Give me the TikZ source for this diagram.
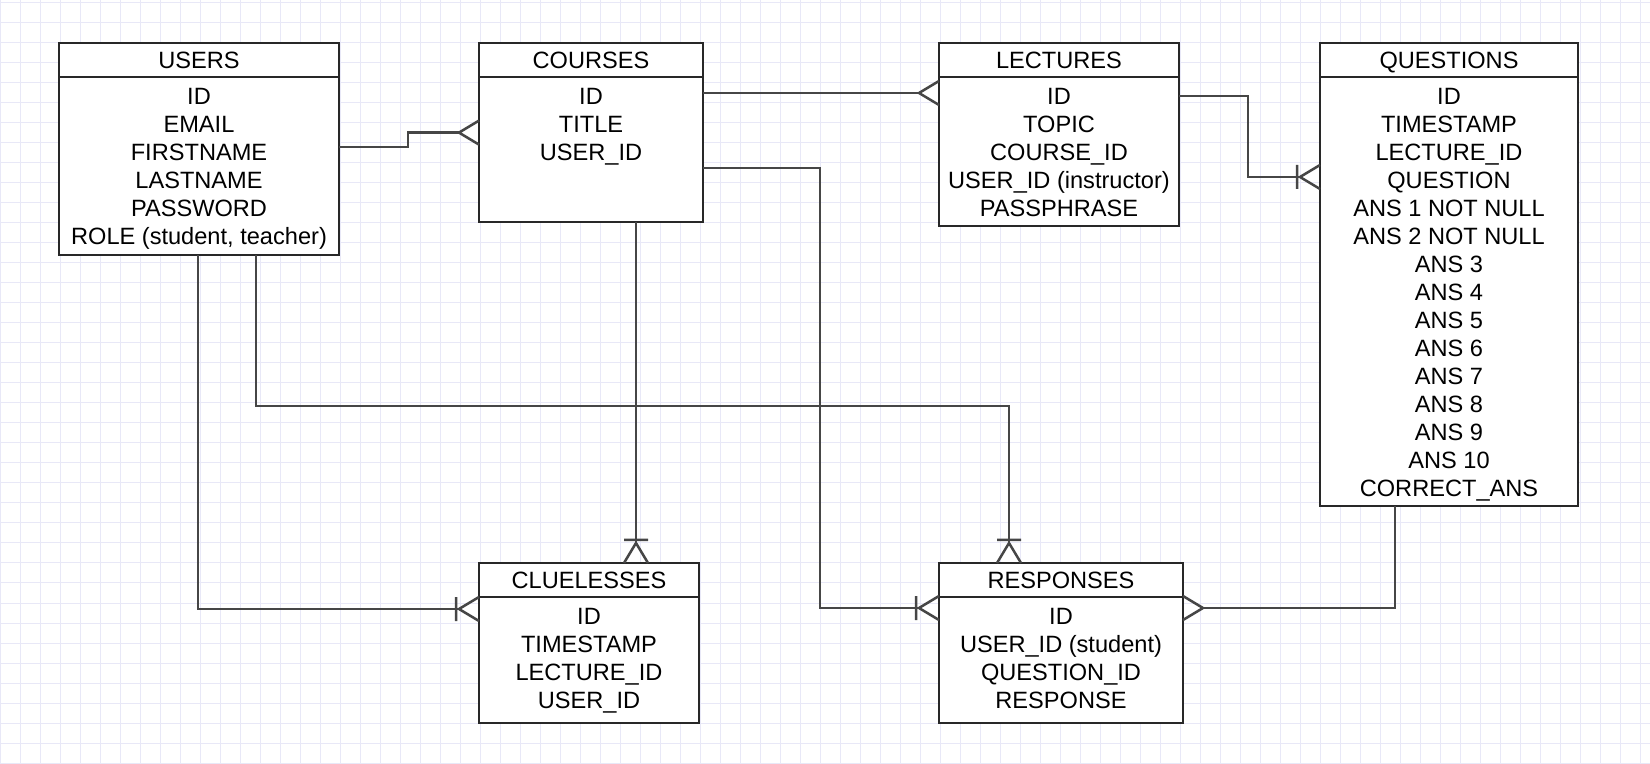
\documentclass[tikz,border=0pt]{standalone}
\usepackage{fontspec}
\setmainfont{Liberation Sans}
\usetikzlibrary{positioning,calc}

\definecolor{gridcol}{RGB}{232,232,247}
\definecolor{conncol}{RGB}{70,70,70}
\definecolor{boxcol}{RGB}{40,40,40}

% crow's foot (many)
\pgfdeclarearrow{
    name = crow,
    setup code = {
        \pgfarrowssettipend{0pt}
        \pgfarrowssetbackend{-10pt}
        \pgfarrowssetlineend{-10pt}
        \pgfarrowshullpoint{0pt}{6pt}
        \pgfarrowshullpoint{0pt}{-6pt}
        \pgfarrowshullpoint{-10pt}{0pt}
    },
    drawing code = {
        \pgfsetroundjoin
        \pgfpathmoveto{\pgfqpoint{0pt}{6pt}}
        \pgfpathlineto{\pgfqpoint{-10pt}{0pt}}
        \pgfpathlineto{\pgfqpoint{0pt}{-6pt}}
        \pgfusepathqstroke
    }
}
% bar + crow's foot (one or many)
\pgfdeclarearrow{
    name = crowbar,
    setup code = {
        \pgfarrowssettipend{0pt}
        \pgfarrowssetbackend{-11.5pt}
        \pgfarrowssetlineend{-10pt}
        \pgfarrowshullpoint{0pt}{6pt}
        \pgfarrowshullpoint{0pt}{-6pt}
        \pgfarrowshullpoint{-11.5pt}{6pt}
        \pgfarrowshullpoint{-11.5pt}{-6pt}
    },
    drawing code = {
        \pgfsetroundjoin
        \pgfpathmoveto{\pgfqpoint{0pt}{6pt}}
        \pgfpathlineto{\pgfqpoint{-10pt}{0pt}}
        \pgfpathlineto{\pgfqpoint{0pt}{-6pt}}
        \pgfpathmoveto{\pgfqpoint{-11.5pt}{6pt}}
        \pgfpathlineto{\pgfqpoint{-11.5pt}{-6pt}}
        \pgfusepathqstroke
    }
}

\tikzset{
    every picture/.style={x=0.5pt,y=-0.5pt},
    gridline/.style={draw=gridcol,line width=0.5pt},
    conn/.style={draw=conncol,line width=1.25pt},
    tablehead/.style={draw=boxcol,fill=white,line width=1.1pt,minimum height=17pt,
        text height=8.5pt,text depth=0pt,
        inner sep=0pt,outer sep=0pt,font=\fontsize{11.8}{14}\selectfont},
    tablebody/.style={draw=boxcol,fill=white,line width=1.1pt,inner sep=0pt,outer sep=0pt},
    rows/.style={anchor=north,align=center,inner sep=0pt,
        font=\fontsize{11.8}{14}\selectfont,execute at begin node=\strut}
}

\begin{document}
\begin{tikzpicture}
    \useasboundingbox (0,0) rectangle (1650,764);
    \fill[white] (0,0) rectangle (1650,764);
    \foreach \gx in {0,20,...,1640} \draw[gridline] (\gx,0) -- (\gx,764);
    \foreach \gy in {3,23,...,763} \draw[gridline] (0,\gy) -- (1650,\gy);

    % tables
    \node[tablehead,minimum width=140pt,anchor=north] (users) at (199,43) {USERS};
    \node[tablebody,minimum width=140pt,minimum height=89pt,below=0pt of users] (usersb) {};
    \node[rows] (usersr) at ($(usersb.north)+(0,10.8)$)
        {ID\\EMAIL\\FIRSTNAME\\LASTNAME\\PASSWORD\\ROLE (student, teacher)};

    \node[tablehead,minimum width=112pt,anchor=north] (courses) at (591,43) {COURSES};
    \node[tablebody,minimum width=112pt,minimum height=72.5pt,below=0pt of courses] (coursesb) {};
    \node[rows] (coursesr) at ($(coursesb.north)+(0,10.8)$) {ID\\TITLE\\USER\_ID};

    \node[tablehead,minimum width=120pt,anchor=north] (lectures) at (1059,43) {LECTURES};
    \node[tablebody,minimum width=120pt,minimum height=74.5pt,below=0pt of lectures] (lecturesb) {};
    \node[rows] (lecturesr) at ($(lecturesb.north)+(0,10.8)$)
        {ID\\TOPIC\\COURSE\_ID\\USER\_ID (instructor)\\PASSPHRASE};

    \node[tablehead,minimum width=129pt,anchor=north] (questions) at (1449,43) {QUESTIONS};
    \node[tablebody,minimum width=129pt,minimum height=214.5pt,below=0pt of questions] (questionsb) {};
    \node[rows] (questionsr) at ($(questionsb.north)+(0,10.8)$)
        {ID\\TIMESTAMP\\LECTURE\_ID\\QUESTION\\ANS 1 NOT NULL\\ANS 2 NOT NULL\\ANS 3\\ANS 4\\
         ANS 5\\ANS 6\\ANS 7\\ANS 8\\ANS 9\\ANS 10\\CORRECT\_ANS};

    \node[tablehead,minimum width=110pt,anchor=north] (clue) at (589,563) {CLUELESSES};
    \node[tablebody,minimum width=110pt,minimum height=63pt,below=0pt of clue] (clueb) {};
    \node[rows] (cluer) at ($(clueb.north)+(0,10.8)$) {ID\\TIMESTAMP\\LECTURE\_ID\\USER\_ID};

    \node[tablehead,minimum width=122pt,anchor=north] (responses) at (1061,563) {RESPONSES};
    \node[tablebody,minimum width=122pt,minimum height=63pt,below=0pt of responses] (responsesb) {};
    \node[rows] (responsesr) at ($(responsesb.north)+(0,10.8)$)
        {ID\\USER\_ID (student)\\QUESTION\_ID\\RESPONSE};

    % relations
    \draw[conn,-crow] ($(usersb.north east)+(0,70)$) -- ++(69,0) |- ($(coursesb.north west)+(0,55.6)$);
    \draw[conn,-crow] ($(coursesb.north east)+(0,16)$) -- ($(lecturesb.north west)+(0,16)$);
    \draw[conn,-crowbar] ($(lecturesb.north east)+(0,19)$) -- ++(69,0) |- ($(questionsb.north west)+(0,100)$);
    \draw[conn,-crowbar] ($(coursesb.south west)+(157,0)$) -- ($(clue.north west)+(157,0)$);
    \draw[conn,-crowbar] ($(usersb.south west)+(139,0)$) |- ($(clueb.north west)+(0,12)$);
    \draw[conn,-crowbar] ($(usersb.south west)+(197,0)$) -- ++(0,151) -| ($(responses.north west)+(70,0)$);
    \draw[conn,-crowbar] ($(coursesb.north east)+(0,91)$) -- ++(117,0) |- ($(responsesb.north west)+(0,11)$);
    \draw[conn,-crow] ($(questionsb.south west)+(75,0)$) |- ($(responsesb.north east)+(0,11)$);
\end{tikzpicture}
\end{document}
